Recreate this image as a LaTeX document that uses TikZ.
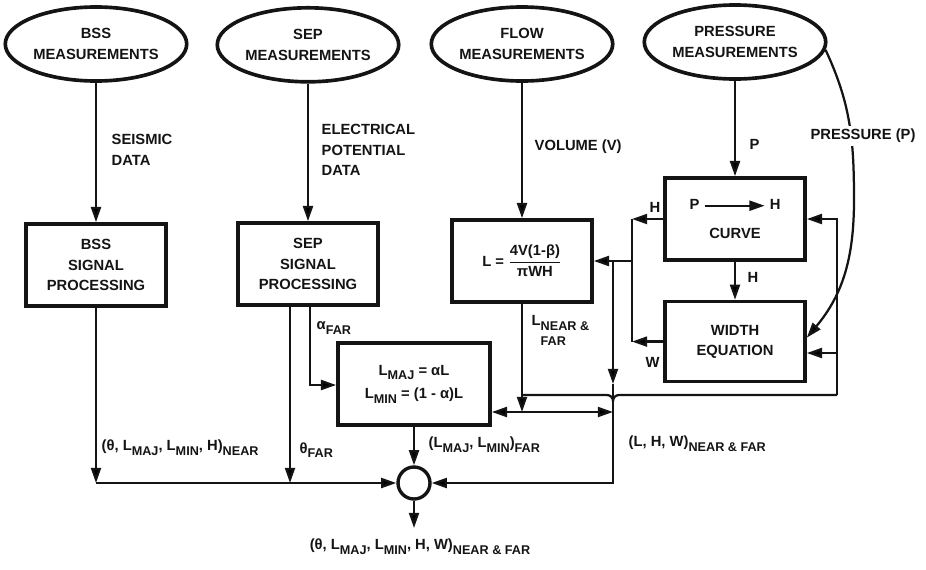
\documentclass[tikz,border=0pt]{standalone}
\usepackage{fontspec}
\setmainfont{Liberation Sans}
\usepackage{amsmath}
\usetikzlibrary{arrows.meta,positioning,shapes.geometric,calc}
\definecolor{inkblk}{RGB}{20,20,20}
\newcommand{\subtx}[1]{\raisebox{-0.6ex}{\small #1}}
\tikzset{
    oval/.style={
        ellipse,draw=inkblk,line width=2.6pt,
        minimum width=4.3cm,minimum height=1.85cm,align=center,inner sep=1pt
    },
    blk/.style={
        draw=inkblk,line width=2.6pt,
        minimum width=#1,minimum height=2.05cm,align=center
    },
    blk/.default=3.5cm,
    arrow/.style={
        -{Triangle[length=3.8mm,width=2.5mm]},line width=1.6pt,draw=inkblk
    },
    dbl/.style={
        {Triangle[length=3.8mm,width=2.5mm]}-{Triangle[length=3.8mm,width=2.5mm]},
        line width=1.6pt,draw=inkblk
    },
    link/.style={line width=1.6pt,draw=inkblk},
    lbl/.style={align=left,anchor=west,inner sep=1pt}
}

\begin{document}
\begin{tikzpicture}[font=\fontsize{10.5}{14.5}\selectfont\bfseries,text=inkblk]
\useasboundingbox (0,0) rectangle (23.15,-14.225);

% measurements
\node[oval,minimum width=4.0cm] (bssm) at (2.4,-1.1) {BSS\\MEASUREMENTS};
\node[oval] (sepm) at (7.7,-1.12) {SEP\\MEASUREMENTS};
\node[oval,minimum width=4.45cm] (flowm) at (13.05,-1.1) {FLOW\\MEASUREMENTS};
\node[oval,minimum width=4.5cm] (presm) at (18.375,-1.05) {PRESSURE\\MEASUREMENTS};

% processing blocks
\node[blk] (bssp) at (2.4,-6.625) {BSS\\SIGNAL\\PROCESSING};
\node[blk] (sepp) at (7.7,-6.6) {SEP\\SIGNAL\\PROCESSING};
\node[blk] (lcalc) at (13.05,-6.525) {L = $\dfrac{\text{4V(1-β)}}{\text{πWH}}$};
\node[blk] (curve) at (18.375,-5.475)
{P \tikz[baseline=-0.5ex]\draw[arrow] (0,0) -- (1.5,0); H\\[6pt]CURVE};
\node[blk,minimum height=2cm] (width) at (18.375,-8.54) {WIDTH\\EQUATION};
\node[blk=3.8cm] (lmaj) at (10.35,-9.6)
{L\subtx{MAJ} = αL\\[2pt]L\subtx{MIN} = (1 - α)L};
\node[circle,draw=inkblk,line width=2.4pt,minimum size=0.8cm,inner sep=0pt] (sum) at (10.35,-12.075) {};

% corner points
\coordinate (bsscor) at (2.4,-12.075);
\coordinate (thfar) at (7.25,-12.075);
\coordinate (afar) at (7.75,-9.625);
\coordinate (fb) at (15.8,-6.525);
\coordinate (jr) at (15.325,-10.3);
\coordinate (jmid) at (15.325,-9.6);
\coordinate (lb) at (13.05,-9.875);
\coordinate (loopr) at (20.925,-9.875);
\coordinate (wr) at (20.925,-8.825);
\coordinate (pbend) at (21.35,-5.0);
\coordinate (outp) at (10.35,-13.2);

% data paths
\draw[arrow] (bssm) -- (bssp);
\draw[arrow] (sepm) -- (sepp);
\draw[arrow] (flowm) -- (lcalc);
\draw[arrow] (presm) -- (curve);
\draw[arrow] (curve) -- (width);
\draw[arrow] (bssp) -- (bsscor);
\draw[arrow] (bsscor) -- (sum);
\draw[arrow] (sepp.south -| thfar) -- (thfar);
\draw[arrow] (sepp.south -| afar) |- (lmaj.west |- afar);
\draw[arrow] (lmaj) -- (sum);
\draw[arrow] (sum) -- (outp);

% H and W back to L
\draw[arrow] (curve.west) -- (curve.west -| fb);
\draw[arrow] (width.west) -- (width.west -| fb);
\draw[link] (curve.west -| fb) -- (width.west -| fb);
\draw[arrow] (fb) -- (lcalc.east);

% L split
\draw[arrow] (lcalc) -- (lcalc.south |- jr);
\draw[dbl] (lmaj.east |- jr) -- (jr);
\draw[arrow] (lcalc.east -| jr) -- (jmid);
\draw[arrow] (jmid) |- (sum);
\draw[link] (lb) -- ++(2.125,0) to[out=0,in=90] ++(0.15,-0.15)
    to[out=90,in=180] ++(0.15,0.15) -- (loopr);
\draw[arrow] (loopr) |- (curve.east);
\draw[arrow] (wr) -- (wr -| width.east);

% pressure line
\draw[arrow] (presm.-5) to[out=-65,in=90] (pbend)
    to[out=-90,in=50] ($(width.east)+(0,0.1)$);

% labels
\node[lbl] (seis) at (2.75,-3.75) {SEISMIC\\DATA};
\node[lbl] (elec) at (8.0,-3.75) {ELECTRICAL\\POTENTIAL\\DATA};
\node[lbl] (vol) at (13.325,-3.675) {VOLUME (V)};
\node[lbl] (plbl) at (18.7,-3.6) {P};
\node[lbl] (hlbl) at (18.65,-6.925) {H};
\node[lbl] (htop) at (16.2,-5.175) {H};
\node[lbl] (wlbl) at (16.1,-9.05) {W};
\node[lbl] (alfar) at (7.875,-8.2) {α\subtx{FAR}};
\node[lbl,anchor=north west] (lnear) at (13.25,-7.85)
{L\subtx{NEAR \&}\\[-4pt]\phantom{L}\subtx{FAR}};
\node[lbl] (nearset) at (2.5,-11.2) {(θ, L\subtx{MAJ}, L\subtx{MIN}, H)\subtx{NEAR}};
\node[lbl] (thlbl) at (7.45,-11.25) {θ\subtx{FAR}};
\node[lbl] (farset) at (10.675,-11.125) {(L\subtx{MAJ}, L\subtx{MIN})\subtx{FAR}};
\node[lbl] (lhw) at (15.675,-11.1) {(L, H, W)\subtx{NEAR \& FAR}};
\node (outlbl) at (10.5,-13.675) {(θ, L\subtx{MAJ}, L\subtx{MIN}, H, W)\subtx{NEAR \& FAR}};
\node[fill=white,inner sep=2pt] (preslbl) at (21.575,-3.4) {PRESSURE (P)};

\end{tikzpicture}
\end{document}
